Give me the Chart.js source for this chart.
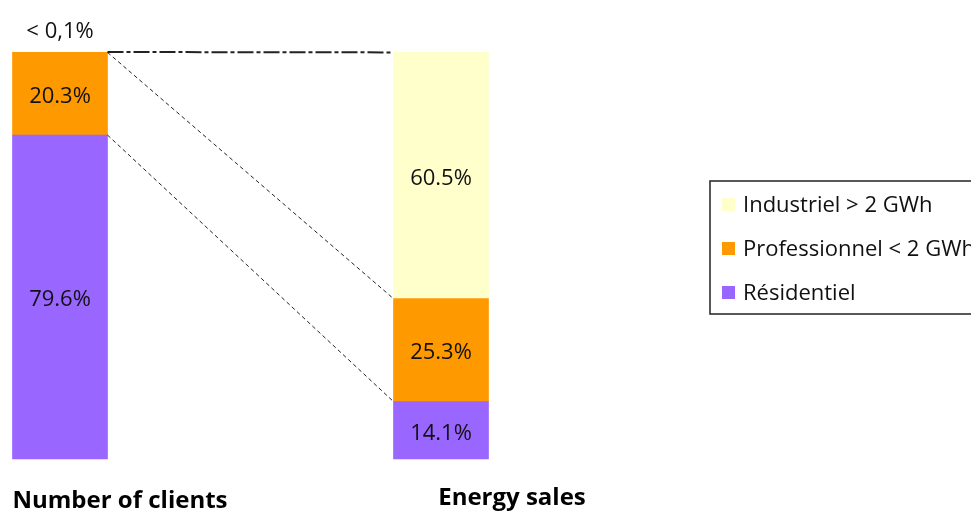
<!DOCTYPE html>
<html>
<head>
<meta charset="utf-8">
<script src="https://cdn.jsdelivr.net/npm/chart.js@4.4.1/dist/chart.umd.min.js"></script>
<style>
  html, body { margin: 0; padding: 0; background: #fff; overflow: hidden; }
  canvas { display: block; }
</style>
</head>
<body>
<canvas id="split-chart" width="971" height="512"></canvas>
<script>
const categories = ['Number of clients', 'Energy sales']
const seriesNames = ['Résidentiel', 'Professionnel < 2 GWh', 'Industriel > 2 GWh']
const residentiel = [79.6, 14.1]
const professionnel = [20.3, 25.3]
const industriel = [0.1, 60.5]
const colors = ['#9966ff', '#ff9900', '#ffffcc']

const FONT = '"Open Sans", Lato, sans-serif'

// tiny shares are written the french way, above the bar
function pctText(v) {
  if (v < 1) return '< ' + String(v).replace('.', ',') + '%'
  return v.toFixed(1) + '%'
}

const decor = {
  id: 'decor',
  afterDatasetsDraw(chart) {
    const ctx = chart.ctx
    const n = chart.data.datasets.length
    ctx.save()

    // connector lines between the tops of matching segments
    for (let d = 0; d < n; d++) {
      const els = chart.getDatasetMeta(d).data
      const a = els[0], b = els[1]
      ctx.beginPath()
      if (d === n - 1) {
        ctx.lineWidth = 2
        ctx.setLineDash([16, 3, 4, 3])
      } else {
        ctx.lineWidth = 1
        ctx.setLineDash([4, 3])
      }
      ctx.strokeStyle = '#222'
      ctx.moveTo(a.x + a.width / 2, a.y)
      ctx.lineTo(b.x - b.width / 2, b.y)
      ctx.stroke()
    }
    ctx.setLineDash([])

    // value labels
    ctx.font = '22px ' + FONT
    ctx.fillStyle = '#111'
    ctx.textAlign = 'center'
    ctx.textBaseline = 'middle'
    for (let d = 0; d < n; d++) {
      const ds = chart.data.datasets[d]
      chart.getDatasetMeta(d).data.forEach((el, i) => {
        const h = el.base - el.y
        const txt = pctText(ds.data[i])
        if (h > 20) ctx.fillText(txt, el.x, (el.y + el.base) / 2 + 3)
        else ctx.fillText(txt, el.x, el.y - 20)
      })
    }

    // category names under the bars
    const xs = chart.scales.x
    ctx.font = 'bold 24px ' + FONT
    ctx.fillStyle = '#000'
    categories.forEach((c, i) => {
      ctx.fillText(c, xs.getPixelForValue(i) + 60 + i * 11, chart.chartArea.bottom + 42 - i * 3)
    })

    // legend box, top series first
    const lx = 710, ly = 181, lw = 300, lh = 133
    ctx.lineWidth = 1.5
    ctx.strokeStyle = '#222'
    ctx.strokeRect(lx, ly, lw, lh)
    ctx.font = '22px ' + FONT
    ctx.textAlign = 'left'
    for (let k = 0; k < n; k++) {
      const ds = chart.data.datasets[n - 1 - k]
      const cy = ly + 24 + k * 44
      ctx.fillStyle = ds.backgroundColor
      ctx.fillRect(lx + 12, cy - 7, 13, 13)
      ctx.fillStyle = '#111'
      ctx.fillText(ds.label, lx + 33, cy + 1)
    }
    ctx.restore()
  }
}

const data = {
  labels: categories,
  datasets: [
    { label: seriesNames[0], data: residentiel, backgroundColor: colors[0] },
    { label: seriesNames[1], data: professionnel, backgroundColor: colors[1] },
    { label: seriesNames[2], data: industriel, backgroundColor: colors[2] },
  ].map(ds => Object.assign(ds, { barThickness: 95, borderWidth: 0, clip: false })),
}

const config = {
  type: 'bar',
  data: data,
  options: {
    responsive: false,
    animation: false,
    layout: { padding: { left: 60, right: 530, top: 52, bottom: 53 } },
    plugins: { legend: { display: false }, tooltip: { enabled: false } },
    scales: {
      x: { stacked: true, offset: false, display: false },
      y: { stacked: true, min: 0, max: 100, display: false },
    },
  },
  plugins: [decor],
}

const chart = new Chart(document.getElementById('split-chart'), config)
</script>
</body>
</html>
